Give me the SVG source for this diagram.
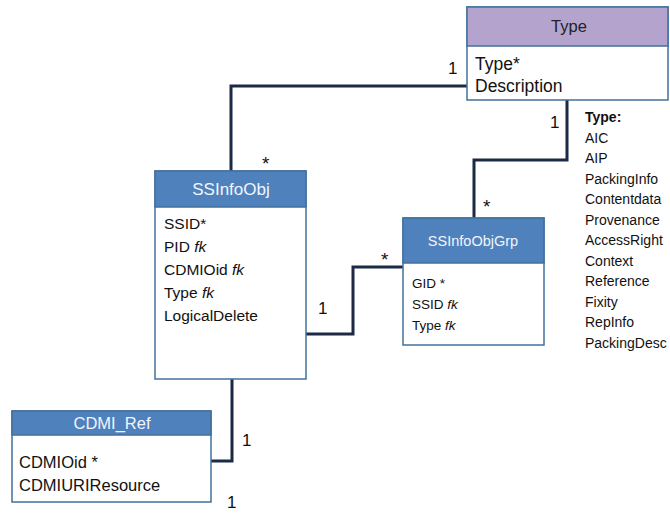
<svg xmlns="http://www.w3.org/2000/svg" width="670" height="513" viewBox="0 0 670 513">
<style>
.box{fill:#ffffff;stroke:#41719c;stroke-width:1.5}
.hdr{fill:#4f81bd;stroke:#41719c;stroke-width:1.5}
.hdrp{fill:#b4a3cd;stroke:#41719c;stroke-width:1.5}
.ht{font-family:"Liberation Sans",Arial,sans-serif;font-size:17px;fill:#f2f5fb;text-anchor:middle}
.htd{font-family:"Liberation Sans",Arial,sans-serif;font-size:16.5px;fill:#222;text-anchor:middle}
.t{font-family:"Liberation Sans",Arial,sans-serif;font-size:15.5px;fill:#111}
.tt{font-family:"Liberation Sans",Arial,sans-serif;font-size:17.5px;fill:#111}
.ts{font-family:"Liberation Sans",Arial,sans-serif;font-size:13.5px;fill:#111}
.lst{font-family:"Liberation Sans",Arial,sans-serif;font-size:14px;fill:#111}
.m{font-family:"Liberation Sans",Arial,sans-serif;font-size:17px;fill:#111}
.a{font-family:"Liberation Sans",Arial,sans-serif;font-size:19px;fill:#111}
.c{fill:none;stroke:#1c2a45;stroke-width:3;stroke-linejoin:miter}
</style>
<g id="connectors">
<polyline class="c" points="467,86 231,86 231,171"/>
<polyline class="c" points="567,100 567,160 474,160 474,218"/>
<polyline class="c" points="306,334 353,334 353,267 403,267"/>
<polyline class="c" points="232,379 232,461 211,461"/>
<text class="m" x="448" y="74">1</text>
<text class="a" x="262" y="170">*</text>
<text class="m" x="550" y="128">1</text>
<text class="a" x="483" y="213">*</text>
<text class="m" x="318" y="314">1</text>
<text class="a" x="381" y="266">*</text>
<text class="m" x="242" y="446">1</text>
<text class="m" x="227" y="508">1</text>
</g>
<g id="Type">
<rect class="box" x="467" y="7" width="201" height="93"/>
<rect class="hdrp" x="467" y="7" width="201" height="39"/>
<text class="htd" x="569" y="32">Type</text>
<text class="tt" x="475" y="70">Type*</text>
<text class="tt" x="475" y="92">Description</text>
</g>
<g id="SSInfoObj">
<rect class="box" x="155" y="171" width="151" height="208"/>
<rect class="hdr" x="155" y="171" width="151" height="36"/>
<text class="ht" x="231" y="195">SSInfoObj</text>
<text class="t" x="164" y="229">SSID*</text>
<text class="t" x="164" y="252">PID <tspan font-style="italic">fk</tspan></text>
<text class="t" x="164" y="275">CDMIOid <tspan font-style="italic">fk</tspan></text>
<text class="t" x="164" y="298">Type <tspan font-style="italic">fk</tspan></text>
<text class="t" x="164" y="321">LogicalDelete</text>
</g>
<g id="SSInfoObjGrp">
<rect class="box" x="403" y="218" width="141" height="127"/>
<rect class="hdr" x="403" y="218" width="141" height="45"/>
<text class="ht" x="473" y="246" style="font-size:14.5px">SSInfoObjGrp</text>
<text class="ts" x="412" y="288">GID *</text>
<text class="ts" x="412" y="309">SSID <tspan font-style="italic">fk</tspan></text>
<text class="ts" x="412" y="330">Type <tspan font-style="italic">fk</tspan></text>
</g>
<g id="CDMI_Ref">
<rect class="box" x="12" y="411" width="199" height="91"/>
<rect class="hdr" x="12" y="411" width="199" height="24"/>
<text class="ht" x="112" y="429" style="font-size:16.5px">CDMI_Ref</text>
<text class="t" x="19" y="468" style="font-size:16.5px">CDMIOid *</text>
<text class="t" x="19" y="491" style="font-size:16.5px">CDMIURIResource</text>
</g>
<g id="TypeList">
<text class="lst" x="585" y="122" font-weight="bold">Type:</text>
<text class="lst" x="585" y="143">AIC</text>
<text class="lst" x="585" y="163">AIP</text>
<text class="lst" x="585" y="184">PackingInfo</text>
<text class="lst" x="585" y="204">Contentdata</text>
<text class="lst" x="585" y="225">Provenance</text>
<text class="lst" x="585" y="245">AccessRight</text>
<text class="lst" x="585" y="266">Context</text>
<text class="lst" x="585" y="286">Reference</text>
<text class="lst" x="585" y="307">Fixity</text>
<text class="lst" x="585" y="327">RepInfo</text>
<text class="lst" x="585" y="348">PackingDesc</text>
</g>
</svg>
